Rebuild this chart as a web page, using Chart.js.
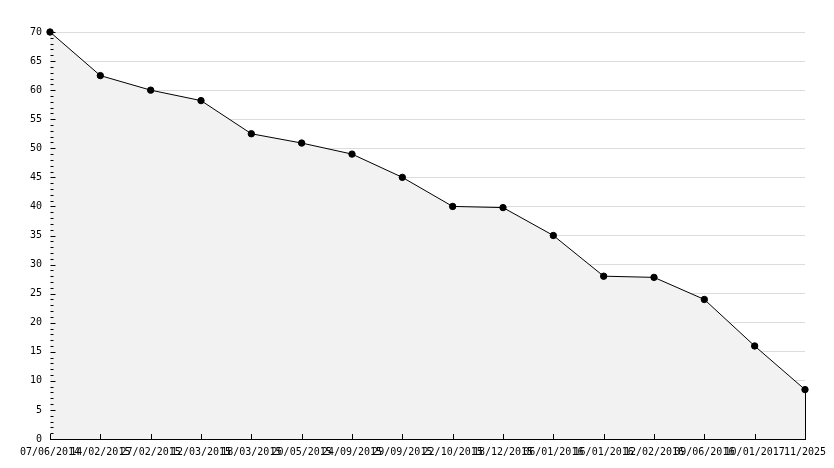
<!DOCTYPE html>
<html>
<head>
<meta charset="utf-8">
<script src="https://cdn.jsdelivr.net/npm/chart.js@4/dist/chart.umd.min.js"></script>
<style>
  html, body { margin: 0; padding: 0; background: #fff; }
  #wrap { width: 834px; height: 468px; }
</style>
</head>
<body>
<div id="wrap"><canvas id="grafico"></canvas></div>
<script>
// fechas y valores
var fechas = ["07/06/2014", "14/02/2015", "27/02/2015", "12/03/2015", "18/03/2015", "20/05/2015",
    "24/09/2015", "29/09/2015", "22/10/2015", "18/12/2015", "06/01/2016", "16/01/2016",
    "12/02/2016", "09/06/2016", "10/01/2017", "11/2025"];
var valores = [70, 62.5, 60, 58.2, 52.5, 50.9, 49, 45, 40, 39.8, 35, 28, 27.8, 24, 16, 8.5];
var yMin = 0, yMax = 70, yPaso = 5;

var fuente = { family: "'DejaVu Sans Mono', monospace", size: 10 };

// marcas hacia adentro en los ejes
var marcasPlugin = {
    id: 'marcas',
    afterDatasetsDraw: function (chart) {
        var c = chart.ctx, a = chart.chartArea;
        var x = chart.scales.x, y = chart.scales.y;
        c.save();
        c.strokeStyle = '#000';
        c.lineWidth = 1;
        c.beginPath();
        var ax = Math.round(a.left) + 0.5;
        for (var v = yMin; v <= yMax; v++) {
            var py = Math.round(y.getPixelForValue(v)) + 0.5;
            var largo = (v % yPaso === 0) ? 5 : 3;
            c.moveTo(ax, py);
            c.lineTo(ax + largo, py);
        }
        for (var i = 0; i < fechas.length; i++) {
            var px = Math.round(x.getPixelForValue(i)) + 0.5;
            c.moveTo(px, a.bottom);
            c.lineTo(px, a.bottom - 5);
        }
        // linea vertical al final del relleno
        var ult = valores.length - 1;
        var lx = Math.round(x.getPixelForValue(ult)) + 0.5;
        c.moveTo(lx, y.getPixelForValue(valores[ult]));
        c.lineTo(lx, a.bottom);
        c.stroke();
        c.restore();
    }
};

var ctx = document.getElementById("grafico");
var myChart = new Chart(ctx, {
    type: 'line',
    data: {
        labels: fechas,
        datasets: [{
            data: valores,
            borderColor: '#000',
            borderWidth: 1,
            backgroundColor: '#f2f2f2',
            fill: 'origin',
            tension: 0,
            clip: false,
            pointStyle: 'circle',
            pointRadius: 3.2,
            pointBackgroundColor: '#000',
            pointBorderColor: '#000',
            pointBorderWidth: 1
        }]
    },
    options: {
        responsive: true,
        maintainAspectRatio: false,
        animation: false,
        events: [],
        layout: { padding: { left: 0, right: 29, top: 32, bottom: 0 } },
        plugins: {
            legend: { display: false },
            tooltip: { enabled: false }
        },
        scales: {
            x: {
                offset: false,
                grid: { display: false, drawTicks: false },
                border: { display: true, color: '#000', width: 1 },
                ticks: {
                    autoSkip: false,
                    maxRotation: 0,
                    minRotation: 0,
                    padding: 7,
                    color: '#000',
                    font: fuente
                },
                afterFit: function (s) { s.height = 29; }
            },
            y: {
                min: yMin,
                max: yMax,
                grid: {
                    drawTicks: false,
                    color: function (c) {
                        return (c.tick && c.tick.value % yPaso === 0 && c.tick.value !== 0) ? '#dcdcdc' : 'rgba(0,0,0,0)';
                    }
                },
                border: { display: true, color: '#000', width: 1 },
                ticks: {
                    stepSize: 1,
                    autoSkip: false,
                    padding: 8,
                    color: '#000',
                    font: fuente,
                    callback: function (v) { return v % yPaso === 0 ? v : ''; }
                },
                afterFit: function (s) { s.width = 50; }
            }
        }
    },
    plugins: [marcasPlugin]
});
</script>
</body>
</html>
